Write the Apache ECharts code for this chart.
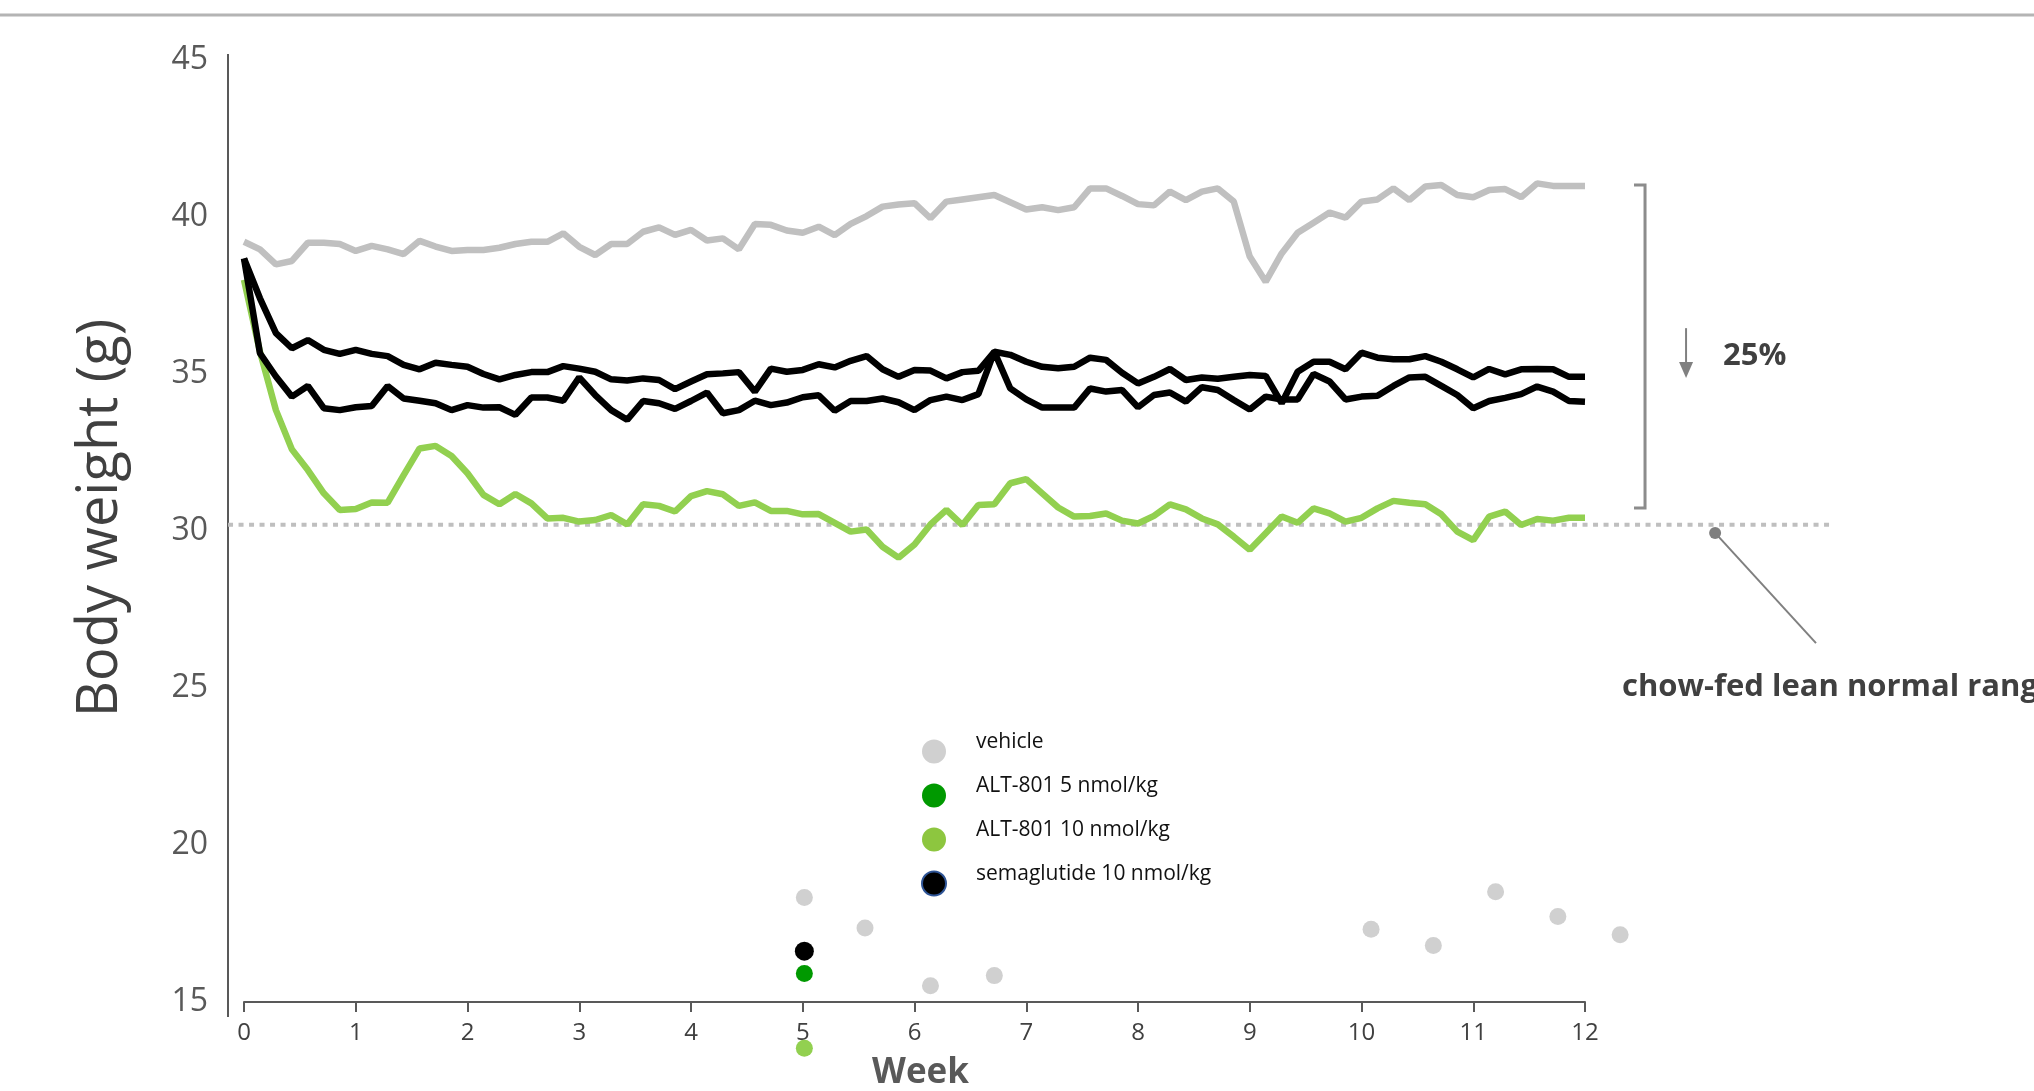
<!DOCTYPE html>
<html>
<head>
<meta charset="utf-8">
<style>
html,body{margin:0;padding:0;background:#fff;overflow:hidden;width:2034px;height:1091px;}
#chart{width:2034px;height:1091px;}
</style>
<script src="https://cdn.jsdelivr.net/npm/echarts@6/dist/echarts.min.js"></script>
</head>
<body>
<div id="chart"></div>
<script>
// ---- data (daily body weight, days 0..84 = weeks 0..12) ----
const weekTicks = [0,1,2,3,4,5,6,7,8,9,10,11,12];
const vehicle = [39.21,38.97,38.49,38.60,39.18,39.18,39.14,38.92,39.08,38.97,38.82,39.24,39.06,38.92,38.95,38.95,39.02,39.14,39.21,39.21,39.48,39.05,
38.79,39.14,39.14,39.53,39.67,39.43,39.59,39.25,39.32,38.97,39.78,39.75,39.57,39.50,39.69,39.42,39.78,40.03,40.33,40.40,40.44,
39.96,40.49,40.56,40.63,40.70,40.47,40.24,40.31,40.22,40.31,40.91,40.91,40.67,40.41,40.37,40.81,40.54,40.81,40.91,40.49,38.74,
37.94,38.84,39.50,39.82,40.14,39.98,40.49,40.56,40.91,40.54,40.97,41.02,40.70,40.63,40.86,40.89,40.63,41.07,40.99,40.99,40.99];
const semaglutide = [38.68,37.41,36.30,35.82,36.08,35.77,35.64,35.77,35.64,35.57,35.29,35.15,35.36,35.29,35.23,35.00,34.83,34.97,35.06,35.06,35.25,35.17,
35.07,34.83,34.79,34.86,34.81,34.52,34.76,34.99,35.02,35.06,34.44,35.17,35.07,35.13,35.31,35.21,35.42,35.57,35.15,34.91,35.13,
35.11,34.86,35.06,35.10,35.71,35.61,35.39,35.23,35.18,35.23,35.52,35.45,35.04,34.70,34.91,35.16,34.81,34.89,34.85,34.91,34.97,
34.94,34.07,35.07,35.39,35.39,35.15,35.68,35.52,35.47,35.47,35.57,35.39,35.15,34.89,35.16,34.99,35.15,35.16,35.15,34.91,34.91];
const alt5 = [38.68,35.66,34.92,34.28,34.62,33.91,33.85,33.94,33.98,34.62,34.22,34.15,34.07,33.85,34.01,33.93,33.94,33.70,34.25,34.25,34.15,34.89,
34.33,33.85,33.54,34.14,34.07,33.89,34.14,34.41,33.75,33.85,34.15,34.01,34.09,34.26,34.32,33.83,34.14,34.14,34.22,34.10,33.85,
34.17,34.28,34.17,34.36,35.71,34.54,34.19,33.93,33.93,33.93,34.54,34.44,34.49,33.94,34.33,34.41,34.12,34.58,34.49,34.17,33.87,
34.28,34.19,34.19,35.00,34.76,34.19,34.28,34.31,34.62,34.89,34.91,34.62,34.33,33.91,34.14,34.24,34.36,34.60,34.44,34.14,34.12];
const alt10 = [38.00,35.71,33.85,32.60,31.94,31.20,30.67,30.70,30.91,30.90,31.78,32.63,32.71,32.39,31.84,31.15,30.85,31.18,30.88,30.40,30.42,30.30,
30.35,30.51,30.21,30.85,30.80,30.62,31.11,31.27,31.17,30.80,30.91,30.64,30.64,30.53,30.54,30.26,29.98,30.05,29.50,29.15,29.57,
30.21,30.67,30.19,30.83,30.85,31.52,31.65,31.20,30.75,30.46,30.48,30.56,30.33,30.24,30.48,30.85,30.69,30.40,30.21,29.82,29.40,
29.93,30.46,30.26,30.72,30.56,30.30,30.42,30.72,30.96,30.90,30.85,30.53,29.98,29.71,30.46,30.62,30.19,30.38,30.33,30.42,30.42];
// stray dots [day, g]
const vehicleDots = [[35.1,18.33],[38.9,17.36],[43.0,15.52],[47.0,15.84],[70.6,17.32],[74.5,16.80],[78.4,18.51],[82.3,17.72],[86.2,17.14]];
const semaDots = [[35.1,16.62]];
const alt5Dots = [[35.1,15.91]];
const alt10Dots = [[35.1,13.53]];
const leanLevel = 30.2;

const days = vehicle.map((_, i) => i);
const pairs = arr => arr.map((v, i) => [days[i], v]);

const FONT = "'Open Sans', 'Noto Sans', sans-serif";
const chart = echarts.init(document.getElementById('chart'), null, { width: 2034, height: 1091 });

const lineStyle = c => ({ type: 'line', symbol: 'none', silent: true, lineStyle: { color: c, width: 6.5 }, itemStyle: { color: c } });
const dotStyle = c => ({ type: 'scatter', clip: false, silent: true, itemStyle: { color: c, opacity: 1 } });

chart.setOption({
  animation: false,
  backgroundColor: '#fff',
  grid: { left: 244, right: 449, top: 60, bottom: 89, containLabel: false, outerBoundsMode: 'none' },
  xAxis: {
    type: 'value', min: 0, max: 84, interval: 7,
    name: 'Week', nameLocation: 'middle', nameGap: 54,
    nameTextStyle: { fontFamily: FONT, fontSize: 35, fontWeight: 'bold', color: '#595959', padding: [0, 0, 0, 12] },
    axisLine: { show: true, lineStyle: { color: '#595959', width: 2 } },
    axisTick: { show: true, length: 10, lineStyle: { color: '#595959', width: 2 } },
    axisLabel: { margin: 19, fontFamily: FONT, fontSize: 24, color: '#404040',
      formatter: v => String(weekTicks[Math.round(v / 7)]) },
    splitLine: { show: false }
  },
  yAxis: {
    type: 'value', min: 15, max: 45, interval: 5, offset: 16,
    name: 'Body weight (g)', nameLocation: 'middle', nameGap: 99,
    nameTextStyle: { fontFamily: FONT, fontSize: 56, color: '#404040', padding: [0, 0, 0, 26] },
    axisLine: { show: false },
    axisTick: { show: false },
    axisLabel: { margin: 20, fontFamily: FONT, fontSize: 32, color: '#595959', padding: [6, 0, 0, 0] },
    splitLine: { show: false }
  },
  legend: {
    orient: 'vertical', left: 921, top: 732, padding: 0, itemWidth: 24, itemHeight: 24, itemGap: 5,
    icon: 'circle', selectedMode: false,
    formatter: n => n + '\n ',
    textStyle: { fontFamily: FONT, fontSize: 21, lineHeight: 18, color: '#111', padding: [0, 0, 0, 25] },
    data: [
      { name: 'vehicle', itemStyle: { color: '#d0d0d0' } },
      { name: 'ALT-801 5 nmol/kg', itemStyle: { color: '#009900' } },
      { name: 'ALT-801 10 nmol/kg', itemStyle: { color: '#8dc63f' } },
      { name: 'semaglutide 10 nmol/kg', itemStyle: { color: '#000', borderColor: '#2f5597', borderWidth: 2 } }
    ]
  },
  series: [
    Object.assign(lineStyle('#92d050'), { name: 'ALT-801 10 nmol/kg', data: pairs(alt10) }),
    Object.assign(lineStyle('#c0c0c0'), { name: 'vehicle', data: pairs(vehicle) }),
    Object.assign(lineStyle('#000000'), { name: 'semaglutide 10 nmol/kg', data: pairs(semaglutide) }),
    Object.assign(lineStyle('#000000'), { name: 'ALT-801 5 nmol/kg', data: pairs(alt5) }),
    Object.assign(dotStyle('#d0d0d0'), { name: 'vehicle', symbolSize: 17, data: vehicleDots }),
    Object.assign(dotStyle('#000000'), { name: 'semaglutide 10 nmol/kg', symbolSize: 19, data: semaDots }),
    Object.assign(dotStyle('#009900'), { name: 'ALT-801 5 nmol/kg', symbolSize: 17, data: alt5Dots }),
    Object.assign(dotStyle('#92d050'), { name: 'ALT-801 10 nmol/kg', symbolSize: 17, data: alt10Dots })
  ]
});

// ---- annotations positioned through the axes ----
const P = (x, y) => chart.convertToPixel({ gridIndex: 0 }, [x, y]);
const x0 = P(0, 15)[0];
const axisX = x0 - 16;
const yTop = P(0, 45)[1] - 6, yBot = P(0, 15)[1] + 15;
const lvl = P(-1, leanLevel), lvlEnd = P(99.5, leanLevel);
const bT = P(87.76, 41.02), bB = P(87.76, 30.73), bTi = P(87.07, 41.02), bBi = P(87.07, 30.73);
const aT = P(90.33, 36.46), aB = P(90.33, 34.87);
const pct = P(92.65, 35.58);
const dot = P(92.15, 29.94), lead = P(98.47, 26.43);
const lbl = P(86.32, 25.03);
const grey = '#808080';

chart.setOption({
  graphic: [
    { type: 'line', shape: { x1: 0, y1: 15, x2: 2034, y2: 15 }, style: { stroke: '#b4b4b4', lineWidth: 3 }, silent: true },
    { type: 'line', shape: { x1: axisX, y1: yTop, x2: axisX, y2: yBot }, style: { stroke: '#595959', lineWidth: 2 }, silent: true },
    { type: 'line', z: 1, shape: { x1: lvl[0], y1: lvl[1], x2: lvlEnd[0], y2: lvlEnd[1] }, style: { stroke: '#bfbfbf', lineWidth: 4, lineDash: [5, 5.5] }, silent: true },
    { type: 'polyline', shape: { points: [bTi, bT, bB, bBi] }, style: { stroke: '#8c8c8c', lineWidth: 3, fill: null }, silent: true },
    { type: 'line', shape: { x1: aT[0], y1: aT[1], x2: aB[0], y2: aB[1] - 14 }, style: { stroke: grey, lineWidth: 2 }, silent: true },
    { type: 'polygon', shape: { points: [[aB[0] - 7, aB[1] - 16], [aB[0] + 7, aB[1] - 16], [aB[0], aB[1]]] }, style: { fill: grey }, silent: true },
    { type: 'text', x: pct[0], y: pct[1], style: { text: '25%', font: "bold 31px 'Open Sans', sans-serif", fill: '#404040', textVerticalAlign: 'middle' }, silent: true },
    { type: 'line', shape: { x1: dot[0], y1: dot[1], x2: lead[0], y2: lead[1] }, style: { stroke: grey, lineWidth: 2 }, silent: true },
    { type: 'circle', shape: { cx: dot[0], cy: dot[1], r: 6 }, style: { fill: '#7f7f7f' }, silent: true },
    { type: 'text', x: lbl[0], y: lbl[1], style: { text: 'chow-fed lean normal range', font: "bold 31px 'Open Sans', sans-serif", fill: '#404040', textVerticalAlign: 'middle' }, silent: true }
  ]
});
</script>
</body>
</html>
